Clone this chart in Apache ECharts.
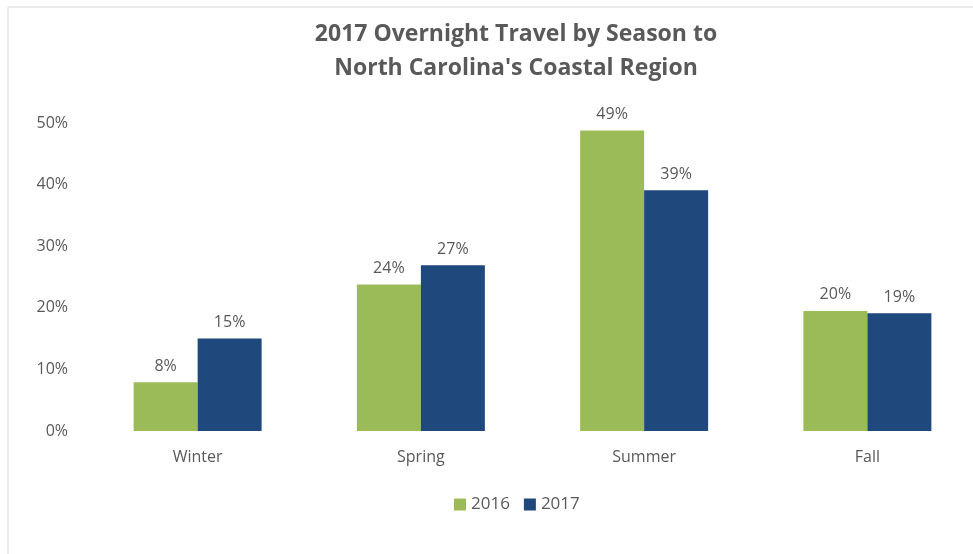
<!DOCTYPE html>
<html>
<head>
<meta charset="utf-8">
<script src="https://cdn.jsdelivr.net/npm/echarts@6/dist/echarts.min.js"></script>
<style>
  html, body { margin: 0; padding: 0; background: #fff; overflow: hidden; }
  #chart { width: 1000px; height: 554px; }
</style>
</head>
<body>
<div id="chart"></div>
<script>
const seasons = ["Winter", "Spring", "Summer", "Fall"];
const travel2016 = [7.9, 23.8, 48.8, 19.5];
const travel2017 = [15.0, 26.9, 39.1, 19.1];
const yTicks = [0, 10, 20, 30, 40, 50];

const textColor = "#595959";
const fontFamily = "'Open Sans', 'Liberation Sans', sans-serif";

const myChart = echarts.init(document.getElementById("chart"));

function pct(v) {
  return Math.round(v) + "%";
}

const option = {
  backgroundColor: "#fff",
  textStyle: { fontFamily: fontFamily },
  graphic: [
    {
      type: "rect",
      shape: { x: 8, y: 7, width: 1000, height: 600 },
      style: { fill: "none", stroke: "#d9d9d9", lineWidth: 1 },
      silent: true
    }
  ],
  title: {
    text: "2017 Overnight Travel by Season to\nNorth Carolina's Coastal Region",
    left: 511,
    textAlign: "center",
    top: 12,
    textStyle: {
      color: textColor,
      fontSize: 23,
      fontWeight: "bold",
      lineHeight: 34,
      fontFamily: fontFamily
    }
  },
  legend: {
    data: ["2016", "2017"],
    left: 449,
    top: 491,
    itemWidth: 12,
    itemHeight: 12,
    itemGap: 14,
    icon: "rect",
    textStyle: { color: textColor, fontSize: 17, fontFamily: fontFamily }
  },
  grid: {
    left: 86,
    top: 123,
    width: 893,
    height: 308
  },
  xAxis: {
    type: "category",
    data: seasons,
    axisLine: { show: false },
    axisTick: { show: false },
    axisLabel: { color: textColor, fontSize: 16, margin: 18 }
  },
  yAxis: {
    type: "value",
    min: yTicks[0],
    max: yTicks[yTicks.length - 1],
    interval: yTicks[1] - yTicks[0],
    splitLine: { show: false },
    axisLine: { show: false },
    axisTick: { show: false },
    axisLabel: {
      color: textColor,
      fontSize: 16,
      margin: 18,
      formatter: function (v) { return v + "%"; }
    }
  },
  series: [
    {
      name: "2016",
      type: "bar",
      data: travel2016,
      barWidth: 64,
      barGap: "0%",
      itemStyle: { color: "#9BBB59" },
      label: {
        show: true,
        position: "top",
        distance: 8,
        color: textColor,
        fontSize: 16,
        formatter: function (p) { return pct(p.value); }
      }
    },
    {
      name: "2017",
      type: "bar",
      data: travel2017,
      barWidth: 64,
      barGap: "0%",
      itemStyle: { color: "#1F497D" },
      label: {
        show: true,
        position: "top",
        distance: 8,
        color: textColor,
        fontSize: 16,
        formatter: function (p) { return pct(p.value); }
      }
    }
  ]
};

myChart.setOption(option);
</script>
</body>
</html>
